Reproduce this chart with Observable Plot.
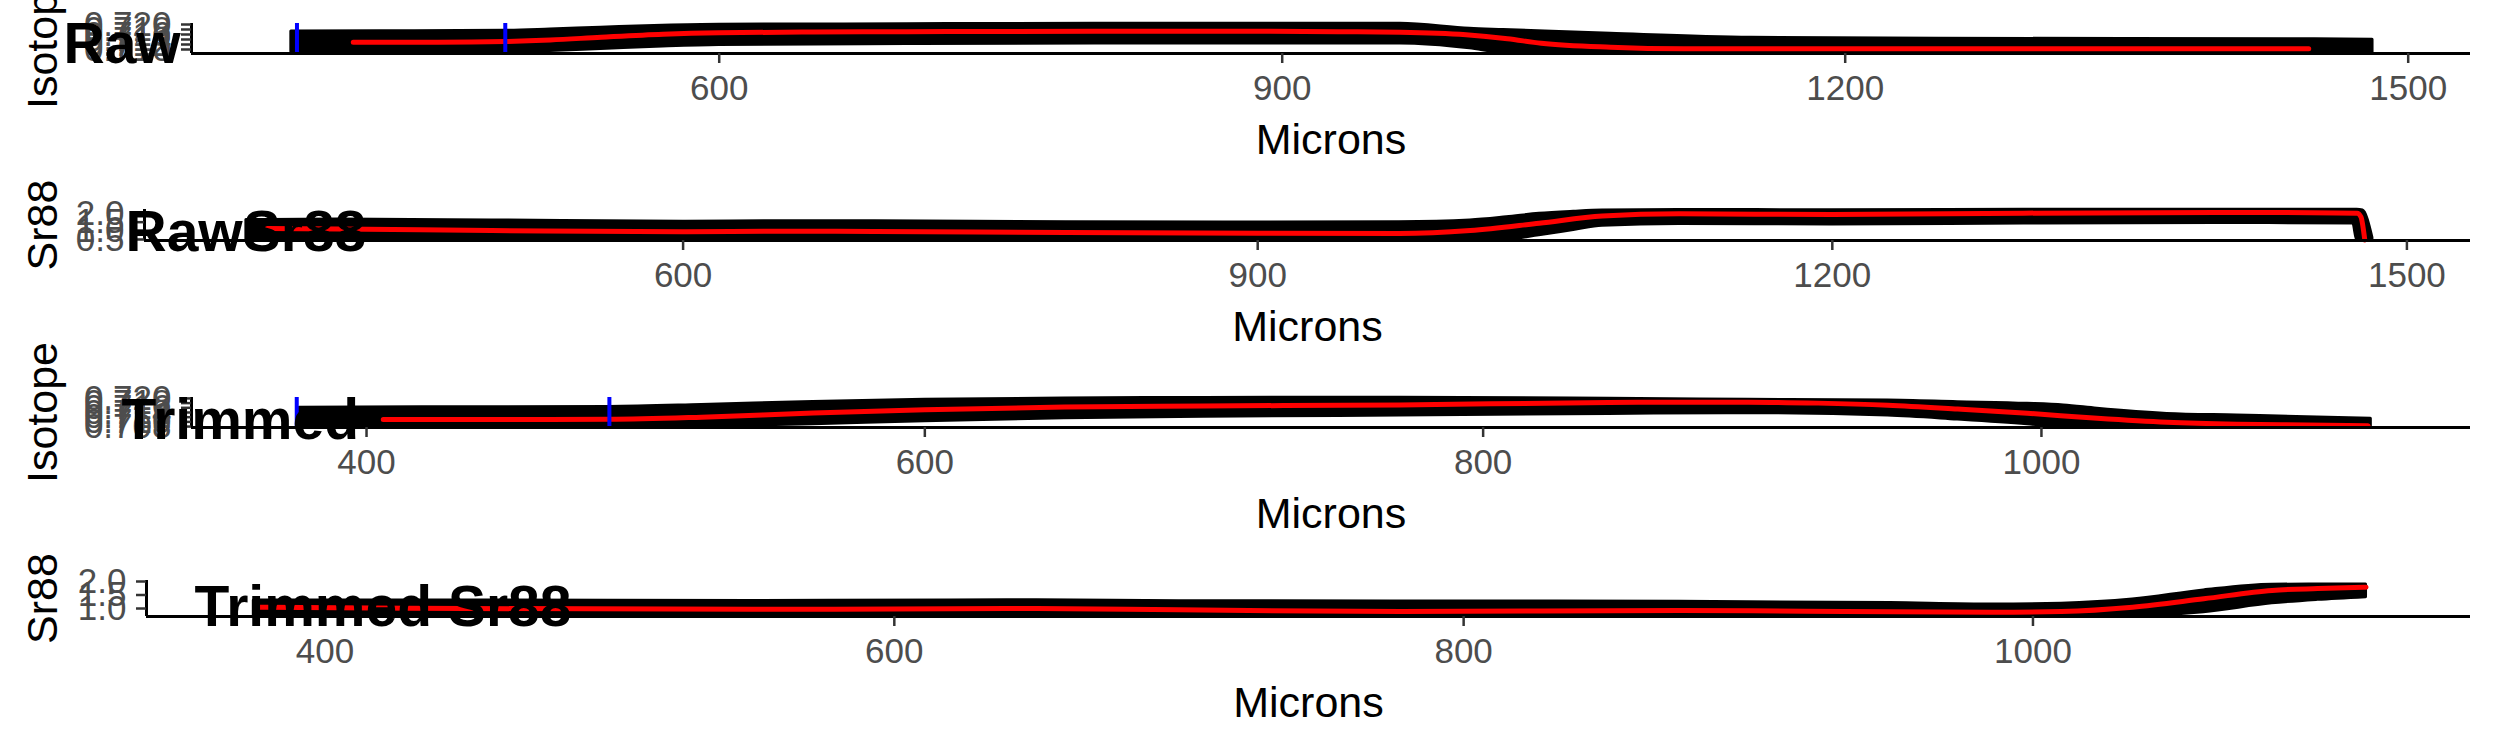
<!DOCTYPE html>
<html><head><meta charset="utf-8">
<script src="https://cdn.jsdelivr.net/npm/d3@7"></script>
<script src="https://cdn.jsdelivr.net/npm/@observablehq/plot@0.6"></script>
<style>
body{margin:0;background:#fff;}
#wrap{position:relative;width:2495px;height:749px;overflow:hidden;font-family:"Liberation Sans",Arial,sans-serif;}
#wrap svg{position:absolute;left:0;overflow:visible;}
</style></head><body><div id="wrap"></div>
<script>
// ---- tick values ----
const rawXTicks = [600, 900, 1200, 1500];
const trimXTicks = [400, 600, 800, 1000];
const isoRawTicks = [0.710, 0.712, 0.714, 0.716, 0.718, 0.720];
const isoTrimTicks = [0.708, 0.710, 0.712, 0.714, 0.716, 0.718, 0.720];
const srRawTicks = [0.5, 1.0, 1.5, 2.0];
const srTrimTicks = [1.0, 1.5, 2.0];

// ---- cut positions (blue lines) ----
const rawCuts = [375, 486];
const trimCuts = [375, 487];

// ---- Raw isotope: scatter envelope + smooth ----
const rawIsoBandX = [372,420,486,510,537,570,600,700,800,900,963,1000,1018,1040,1075,1150,1250,1350,1450,1481];
const rawIsoBandLow = [0.7090,0.7089,0.7090,0.7094,0.7102,0.7112,0.7118,0.7122,0.7124,0.7124,0.7124,0.7105,0.7087,0.7086,0.7086,0.7086,0.7086,0.7086,0.7086,0.7086];
const rawIsoBandHigh = [0.7172,0.7173,0.7175,0.7180,0.7187,0.7195,0.7199,0.7201,0.7203,0.7203,0.7203,0.7183,0.7178,0.7172,0.7163,0.7147,0.7143,0.7142,0.7141,0.7139];
const rawIsoSmoothX = [405,450,486,510,537,570,600,650,700,800,880,930,963,998,1020,1038,1075,1114,1200,1300,1400,1447];
const rawIsoSmoothY = [0.7129,0.7129,0.7132,0.7138,0.7149,0.7161,0.7167,0.7170,0.7171,0.7173,0.7173,0.7171,0.7169,0.7159,0.7143,0.7125,0.7109,0.7103,0.7103,0.7103,0.7103,0.7103];

// ---- Raw Sr88 ----
const rawSrBandX = [372,420,500,600,650,700,800,900,974,1011,1030,1047,1065,1080,1120,1200,1300,1400,1472,1474,1477,1482];
const rawSrBandLow = [0.45,0.45,0.45,0.45,0.45,0.45,0.45,0.45,0.45,0.45,0.50,0.75,1.05,1.30,1.40,1.37,1.42,1.45,1.43,0.45,0.45,0.45];
const rawSrBandHigh = [1.62,1.65,1.60,1.52,1.56,1.55,1.50,1.48,1.50,1.60,1.78,1.98,2.10,2.17,2.20,2.19,2.21,2.22,2.21,2.21,2.17,0.60];
const rawSrSmoothX = [383,420,500,600,650,700,800,900,974,1011,1047,1080,1120,1200,1300,1400,1450,1474,1476,1478];
const rawSrSmoothY = [1.13,1.10,1.02,0.94,0.98,0.96,0.90,0.86,0.85,1.02,1.44,1.85,1.98,1.94,2.02,2.06,2.05,2.02,1.80,0.47];

// ---- Trimmed isotope ----
const trimIsoBandX = [376,420,487,520,560,600,650,700,770,845,895,945,970,995,1008,1020,1045,1070,1095,1118];
const trimIsoBandLow = [0.7077,0.7077,0.7077,0.7080,0.7090,0.7103,0.7115,0.7122,0.7127,0.7134,0.7137,0.7127,0.7110,0.7090,0.7077,0.7077,0.7077,0.7077,0.7077,0.7077];
const trimIsoBandHigh = [0.7160,0.7162,0.7164,0.7172,0.7185,0.7194,0.7200,0.7202,0.7203,0.7199,0.7194,0.7191,0.7184,0.7177,0.7170,0.7156,0.7134,0.7127,0.7120,0.7113];
const trimIsoSmoothX = [406,450,487,520,560,600,650,700,770,845,895,920,945,970,995,1020,1045,1070,1095,1117];
const trimIsoSmoothY = [0.7110,0.7110,0.7111,0.7120,0.7138,0.7152,0.7163,0.7168,0.7172,0.7183,0.7184,0.7180,0.7171,0.7155,0.7137,0.7115,0.7098,0.7090,0.7087,0.7084];

// ---- Trimmed Sr88 ----
const trimSrBandX = [375,450,550,620,650,700,778,876,950,986,1010,1035,1060,1084,1100,1117];
const trimSrBandLow = [0.71,0.71,0.71,0.71,0.71,0.71,0.71,0.71,0.71,0.71,0.71,0.72,0.86,1.19,1.32,1.42];
const trimSrBandHigh = [1.30,1.30,1.28,1.30,1.31,1.27,1.26,1.25,1.20,1.15,1.18,1.33,1.67,1.88,1.89,1.89];
const trimSrSmoothX = [377,450,550,620,650,700,778,876,920,986,1010,1035,1060,1084,1100,1117];
const trimSrSmoothY = [1.05,1.00,0.97,0.99,1.00,0.95,0.89,0.93,0.90,0.86,0.89,1.05,1.36,1.67,1.74,1.79];

const FONT = "Liberation Sans, Arial, Helvetica, sans-serif";
const W = 2495;

function panel(cfg) {
  const band = cfg.bandX.map((x, i) => ({x, lo: cfg.bandLo[i], hi: cfg.bandHi[i]}));
  const smooth = cfg.smoothX.map((x, i) => ({x, y: cfg.smoothY[i]}));
  const marks = [
    Plot.areaY(band, {x: "x", y1: "lo", y2: "hi", fill: "black", stroke: "black", strokeWidth: 3, strokeLinejoin: "round", curve: "monotone-x"}),
    Plot.line(smooth, {x: "x", y: "y", stroke: "red", strokeWidth: 5, curve: "monotone-x"})
  ];
  if (cfg.cuts) marks.push(Plot.ruleX(cfg.cuts, {stroke: "blue", strokeWidth: 4}));
  marks.push(
    Plot.ruleY([cfg.yDomain[0]], {stroke: "black", strokeWidth: 3}),
    Plot.ruleX([cfg.xDomain[0]], {stroke: "black", strokeWidth: 3}),
    Plot.axisX({ticks: cfg.xTicks, tickSize: 10, tickPadding: 12, fontSize: 35, color: "#4D4D4D", stroke: "#333333", strokeWidth: 2.5, label: null, tickFormat: d3.format("d")}),
    Plot.axisY({ticks: cfg.yTicks, tickSize: 10, tickPadding: 10, fontSize: 35, color: "#4D4D4D", stroke: "#333333", strokeWidth: 2.5, label: null, tickFormat: d3.format(cfg.yFmt)}),
    Plot.text(["Microns"], {text: d => d, frameAnchor: "bottom", dy: 100, lineAnchor: "bottom", fontSize: 43, fill: "black"}),
    Plot.text([cfg.yLabel], {text: d => d, frameAnchor: "left", dx: 56 - cfg.ml, rotate: -90, lineAnchor: "bottom", textAnchor: "middle", fontSize: 43, fill: "black"}),
    Plot.text([cfg.title], {text: d => d, frameAnchor: "top-left", dx: cfg.titleX - cfg.ml, dy: cfg.titleBase - cfg.mt, lineAnchor: "bottom", textAnchor: "start", fontSize: 57, fontWeight: "bold", fill: "black"})
  );
  const svg = Plot.plot({
    width: W, height: cfg.height,
    marginLeft: cfg.ml, marginRight: 25, marginTop: cfg.mt, marginBottom: cfg.height - cfg.bottom,
    style: {background: "transparent", overflow: "visible", fontFamily: FONT},
    x: {domain: cfg.xDomain},
    y: {domain: cfg.yDomain},
    marks
  });
  svg.style.top = cfg.top + "px";
  document.getElementById("wrap").appendChild(svg);
}

panel({top: 0, height: 187, ml: 191, mt: 23, bottom: 53,
  xDomain: [318.8, 1533.2], yDomain: [0.7084, 0.7204], xTicks: rawXTicks, yTicks: isoRawTicks, yFmt: ".3f",
  bandX: rawIsoBandX, bandLo: rawIsoBandLow, bandHi: rawIsoBandHigh, smoothX: rawIsoSmoothX, smoothY: rawIsoSmoothY,
  cuts: rawCuts, yLabel: "Isotope", title: "Raw", titleX: 63, titleBase: 62});

panel({top: 187, height: 187, ml: 144, mt: 22, bottom: 53,
  xDomain: [318.8, 1533.2], yDomain: [0.442, 2.231], xTicks: rawXTicks, yTicks: srRawTicks, yFmt: ".1f",
  bandX: rawSrBandX, bandLo: rawSrBandLow, bandHi: rawSrBandHigh, smoothX: rawSrSmoothX, smoothY: rawSrSmoothY,
  cuts: null, yLabel: "Sr88", title: "RawSr88", titleX: 125, titleBase: 63});

panel({top: 374, height: 187, ml: 191, mt: 23, bottom: 53,
  xDomain: [337.3, 1153.7], yDomain: [0.7076, 0.7204], xTicks: trimXTicks, yTicks: isoTrimTicks, yFmt: ".3f",
  bandX: trimIsoBandX, bandLo: trimIsoBandLow, bandHi: trimIsoBandHigh, smoothX: trimIsoSmoothX, smoothY: trimIsoSmoothY,
  cuts: trimCuts, yLabel: "Isotope", title: "Trimmed", titleX: 121, titleBase: 64});

panel({top: 561, height: 188, ml: 146, mt: 19, bottom: 55,
  xDomain: [337.3, 1153.7], yDomain: [0.704, 2.037], xTicks: trimXTicks, yTicks: srTrimTicks, yFmt: ".1f",
  bandX: trimSrBandX, bandLo: trimSrBandLow, bandHi: trimSrBandHigh, smoothX: trimSrSmoothX, smoothY: trimSrSmoothY,
  cuts: null, yLabel: "Sr88", title: "Trimmed Sr88", titleX: 194, titleBase: 64});
</script></body></html>
